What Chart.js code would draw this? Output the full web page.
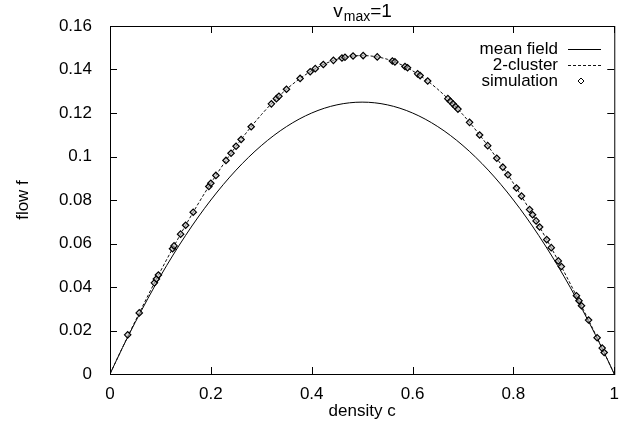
<!DOCTYPE html>
<html>
<head>
<meta charset="utf-8">
<script src="https://cdn.jsdelivr.net/npm/chart.js@4/dist/chart.umd.min.js"></script>
<style>
  body { margin: 0; background: #fff; }
  canvas { display: block; }
</style>
</head>
<body>
<canvas id="myChart" width="621" height="423"></canvas>
<script>
// density values for the two model curves
const curveC = [0, 0.025, 0.05, 0.1, 0.15, 0.2, 0.25, 0.3, 0.35, 0.4, 0.45, 0.5,
  0.55, 0.6, 0.65, 0.7, 0.75, 0.8, 0.85, 0.9, 0.95, 0.975, 1];
const meanField = [0, 0.0122, 0.02375, 0.045, 0.06375, 0.08, 0.09375, 0.105, 0.11375, 0.12, 0.12375, 0.125,
  0.12375, 0.12, 0.11375, 0.105, 0.09375, 0.08, 0.06375, 0.045, 0.02375, 0.0122, 0];
const twoCluster = [0, 0.0123, 0.0243, 0.0472, 0.0684, 0.0877, 0.1047, 0.1192, 0.1309, 0.1394, 0.1447, 0.1464,
  0.1447, 0.1394, 0.1309, 0.1192, 0.1047, 0.0877, 0.0684, 0.0472, 0.0243, 0.0123, 0];

// simulation points
const simC = [0.035, 0.058, 0.088, 0.092, 0.096, 0.124, 0.127, 0.14, 0.15, 0.165, 0.196, 0.2, 0.21, 0.23, 0.24,
  0.25, 0.26, 0.28, 0.32, 0.33, 0.335, 0.35, 0.377, 0.397, 0.407, 0.423, 0.443, 0.46, 0.466, 0.482, 0.502,
  0.53, 0.56, 0.565, 0.585, 0.59, 0.61, 0.615, 0.63, 0.67, 0.675, 0.68, 0.685, 0.69, 0.713, 0.733, 0.749,
  0.767, 0.779, 0.789, 0.806, 0.816, 0.832, 0.838, 0.845, 0.852, 0.866, 0.875, 0.889, 0.895, 0.925, 0.93,
  0.935, 0.949, 0.966, 0.976, 0.98];
const simF = [0.018, 0.0281, 0.0419, 0.0437, 0.0455, 0.0576, 0.0589, 0.0643, 0.0684, 0.0744, 0.0862, 0.0877,
  0.0913, 0.0982, 0.1015, 0.1047, 0.1078, 0.1137, 0.1242, 0.1266, 0.1277, 0.1309, 0.1359, 0.139, 0.1404,
  0.1423, 0.1442, 0.1453, 0.1456, 0.1462, 0.1464, 0.1458, 0.1439, 0.1435, 0.1414, 0.1408, 0.138, 0.1372,
  0.1347, 0.1266, 0.1254, 0.1242, 0.123, 0.1218, 0.1157, 0.1099, 0.105, 0.0992, 0.0951, 0.0916, 0.0855,
  0.0818, 0.0756, 0.0732, 0.0704, 0.0676, 0.0618, 0.0581, 0.052, 0.0494, 0.036, 0.0337, 0.0314, 0.0248,
  0.0167, 0.0119, 0.0099];

const xTicks = [0, 0.2, 0.4, 0.6, 0.8, 1];
const yTicks = [0, 0.02, 0.04, 0.06, 0.08, 0.1, 0.12, 0.14, 0.16];

const FONT = "'Liberation Sans', Arial, sans-serif";

function pts(xs, ys) {
  return xs.map((x, i) => ({x: x, y: ys[i]}));
}

// frame, inward ticks on all four sides, title and gnuplot style key
const gnuplotBits = {
  id: 'gnuplotBits',
  afterDatasetsDraw(chart) {
    const ctx = chart.ctx;
    const a = chart.chartArea;
    const xs = chart.scales.x, ys = chart.scales.y;
    ctx.save();
    ctx.strokeStyle = '#000';
    ctx.lineWidth = 1;
    ctx.strokeRect(a.left + 0.5, a.top + 0.5, a.right - a.left, a.bottom - a.top);
    ctx.beginPath();
    xTicks.forEach(v => {
      const px = Math.round(xs.getPixelForValue(v)) + 0.5;
      ctx.moveTo(px, a.bottom); ctx.lineTo(px, a.bottom - 7);
      ctx.moveTo(px, a.top); ctx.lineTo(px, a.top + 7);
    });
    yTicks.forEach(v => {
      const py = Math.round(ys.getPixelForValue(v)) + 0.5;
      ctx.moveTo(a.left, py); ctx.lineTo(a.left + 7, py);
      ctx.moveTo(a.right, py); ctx.lineTo(a.right - 7, py);
    });
    ctx.stroke();

    // title v_max=1
    ctx.fillStyle = '#000';
    ctx.textBaseline = 'alphabetic';
    ctx.textAlign = 'left';
    const big = '19px ' + FONT, small = '14px ' + FONT;
    ctx.font = big; const w1 = ctx.measureText('v').width;
    ctx.font = small; const w2 = ctx.measureText('max').width;
    ctx.font = big; const w3 = ctx.measureText('=1').width;
    let tx = (a.left + a.right) / 2 - (w1 + w2 + w3) / 2;
    ctx.font = big; ctx.fillText('v', tx, 17); tx += w1 + 1;
    ctx.font = small; ctx.fillText('max', tx, 21); tx += w2;
    ctx.font = big; ctx.fillText('=1', tx, 17);

    // key
    const rows = [49, 65, 81];
    ctx.font = '17px ' + FONT;
    ctx.textAlign = 'right';
    ctx.textBaseline = 'middle';
    chart.data.datasets.forEach(ds => {
      const y = rows[ds.keyRow];
      ctx.fillText(ds.label, 558, y);
      if (ds.showLine) {
        ctx.beginPath();
        ctx.setLineDash(ds.borderDash || []);
        ctx.strokeStyle = ds.borderColor;
        ctx.lineWidth = ds.borderWidth;
        ctx.moveTo(568, y + 0.5); ctx.lineTo(601, y + 0.5);
        ctx.stroke();
        ctx.setLineDash([]);
      } else {
        ctx.beginPath();
        ctx.strokeStyle = ds.borderColor;
        ctx.lineWidth = 1;
        ctx.moveTo(581, y - 3); ctx.lineTo(584, y); ctx.lineTo(581, y + 3); ctx.lineTo(578, y);
        ctx.closePath();
        ctx.stroke();
      }
    });
    ctx.restore();
  }
};

let myChart = document.getElementById("myChart");

new Chart(myChart, {
  type: 'scatter',
  data: {
    datasets: [{
      label: 'simulation',
      data: pts(simC, simF),
      pointStyle: 'rectRot',
      pointRadius: 3.2,
      borderColor: '#000',
      backgroundColor: 'rgba(190,190,190,0.6)',
      borderWidth: 1.2,
      order: 0,
      keyRow: 2
    }, {
      label: '2-cluster',
      data: pts(curveC, twoCluster),
      showLine: true,
      borderColor: '#111',
      borderWidth: 1,
      borderDash: [3, 2],
      pointRadius: 0,
      cubicInterpolationMode: 'monotone',
      order: 1,
      keyRow: 1
    }, {
      label: 'mean field',
      data: pts(curveC, meanField),
      showLine: true,
      borderColor: '#000',
      borderWidth: 1,
      pointRadius: 0,
      cubicInterpolationMode: 'monotone',
      order: 2,
      keyRow: 0
    }]
  },
  options: {
    responsive: false,
    animation: false,
    layout: { padding: { left: 0, right: 6, top: 26, bottom: 0 } },
    plugins: {
      legend: { display: false },
      title: { display: false },
      tooltip: { enabled: false }
    },
    scales: {
      x: {
        type: 'linear',
        min: 0, max: 1,
        afterBuildTicks: s => { s.ticks = xTicks.map(v => ({value: v})); },
        afterFit: s => { s.height = 49; },
        grid: { display: false },
        border: { display: false },
        ticks: {
          padding: 2,
          color: '#000',
          font: { family: FONT, size: 17 },
          callback: v => String(Math.round(v * 10) / 10)
        },
        title: {
          display: true,
          text: 'density c',
          color: '#000',
          font: { family: FONT, size: 17 },
          padding: { top: 0, bottom: 1 }
        }
      },
      y: {
        type: 'linear',
        min: 0, max: 0.16,
        afterBuildTicks: s => { s.ticks = yTicks.map(v => ({value: v})); },
        afterFit: s => { s.width = 110; },
        grid: { display: false },
        border: { display: false },
        ticks: {
          padding: 10,
          color: '#000',
          font: { family: FONT, size: 17 },
          callback: v => String(Math.round(v * 100) / 100)
        },
        title: {
          display: true,
          text: 'flow f',
          color: '#000',
          font: { family: FONT, size: 17 },
          padding: { top: 13, bottom: 0 }
        }
      }
    }
  },
  plugins: [gnuplotBits]
});
</script>
</body>
</html>
